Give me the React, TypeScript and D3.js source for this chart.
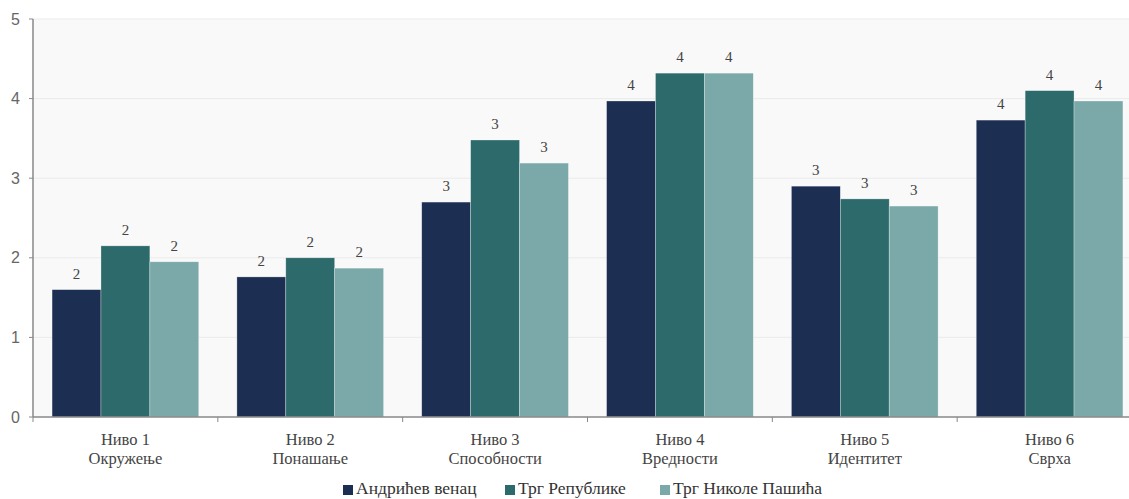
import React from "react";
import * as d3 from "d3";

const categories = ["Ниво 1|Окружење", "Ниво 2|Понашање", "Ниво 3|Способности", "Ниво 4|Вредности", "Ниво 5|Идентитет", "Ниво 6|Сврха"];
const seriesNames = ["Андрићев венац", "Трг Републике", "Трг Николе Пашића"];
const andricevVenac = [1.6, 1.76, 2.7, 3.97, 2.9, 3.73];
const trgRepublike = [2.15, 2.0, 3.48, 4.32, 2.74, 4.1];
const trgNikolePasica = [1.95, 1.87, 3.19, 4.32, 2.65, 3.97];
const yTicks = [0, 1, 2, 3, 4, 5];
const colors = ["#1c2e52", "#2d6a6b", "#7ba8a8"];

const W = 1129;
const H = 499;
const left = 33;
const right = 1142;
const top = 19;
const bottom = 417;

export default function App() {
  const series = [andricevVenac, trgRepublike, trgNikolePasica];
  const x0 = d3.scaleBand<string>().domain(categories).range([left, right]).padding(0);
  const x1 = d3.scaleBand<number>().domain([0, 1, 2]).range([0, x0.bandwidth()]).paddingInner(0).paddingOuter(0.39);
  const y = d3.scaleLinear().domain([0, 5]).range([bottom, top]);
  const fmt = d3.format(".0f");
  const legendX = [343, 505, 660];
  const serif = "'Liberation Serif', 'Times New Roman', serif";

  return (
    <div style={{ position: "absolute", left: 0, top: 0, width: W, height: H, overflow: "hidden" }}>
      <svg width={W} height={H} style={{ display: "block" }}>
        <rect x={0} y={0} width={W} height={H} fill="#ffffff" />
        <rect x={left} y={top} width={right - left} height={bottom - top} fill="#f9f9f9" />
        {yTicks.map((t) => (
          <g key={t}>
            {t > 0 && <line x1={left} x2={right} y1={y(t)} y2={y(t)} stroke="#ebebeb" strokeWidth={1} />}
            <line x1={left - 4} x2={left} y1={y(t)} y2={y(t)} stroke="#888" strokeWidth={1} />
            <text x={20} y={y(t)} dy="0.35em" textAnchor="end" fontFamily="Arial, 'Liberation Sans', sans-serif" fontSize={16} fill="#666">
              {t}
            </text>
          </g>
        ))}
        {categories.map((c, ci) => (
          <g key={c}>
            {series.map((s, si) => {
              const bx = (x0(c) as number) + (x1(si) as number);
              const by = y(s[ci]);
              return (
                <g key={si}>
                  <rect x={bx} y={by} width={x1.bandwidth()} height={bottom - by} fill={colors[si]} stroke="#ffffff" strokeOpacity={0.5} strokeWidth={0.6} />
                  <text x={bx + x1.bandwidth() / 2} y={by - 11} textAnchor="middle" fontFamily={serif} fontSize={15} fill="#444">
                    {fmt(s[ci])}
                  </text>
                </g>
              );
            })}
            <text x={(x0(c) as number) + x0.bandwidth() / 2} y={445} textAnchor="middle" fontFamily={serif} fontSize={16.5} fill="#444">
              {c.split("|")[0]}
            </text>
            <text x={(x0(c) as number) + x0.bandwidth() / 2} y={464} textAnchor="middle" fontFamily={serif} fontSize={16.5} fill="#444">
              {c.split("|")[1]}
            </text>
          </g>
        ))}
        <line x1={left} x2={left} y1={top} y2={bottom} stroke="#888" strokeWidth={1.5} />
        <line x1={left} x2={right} y1={bottom} y2={bottom} stroke="#888" strokeWidth={1.5} />
        {categories.map((c) => (
          <line key={"t" + c} x1={x0(c) as number} x2={x0(c) as number} y1={bottom} y2={bottom + 5} stroke="#888" strokeWidth={1} />
        ))}
        {seriesNames.map((n, i) => (
          <g key={n}>
            <rect x={legendX[i]} y={485} width={10} height={10} fill={colors[i]} />
            <text x={legendX[i] + 13} y={494} fontFamily={serif} fontSize={17.5} fill="#333">
              {n}
            </text>
          </g>
        ))}
      </svg>
    </div>
  );
}
